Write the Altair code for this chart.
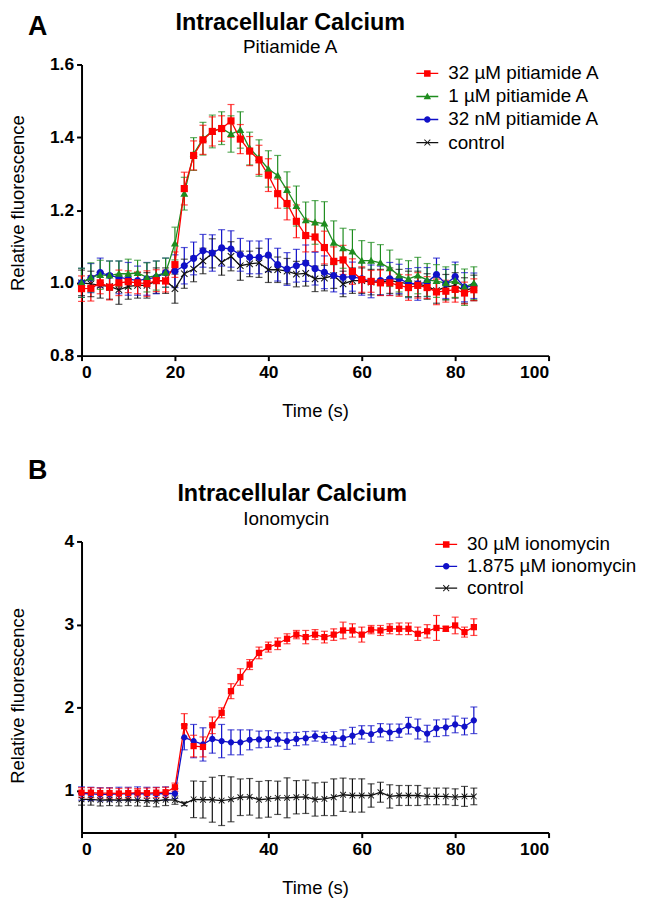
import altair as alt
import pandas as pd

# ---------------- data ----------------
TIME = list(range(0, 85, 2))

# Panel A : Pitiamide A
A_SERIES = ["32 µM pitiamide A", "1 µM pitiamide A", "32 nM pitiamide A", "control"]
A_COLORS = ["#ff0000", "#1e8c1e", "#1010c8", "#111111"]

A_RED = [0.984, 0.985, 1.0, 0.988, 1.0, 1.003, 1.0, 0.998, 1.006, 1.005,
         1.05, 1.259, 1.35, 1.393, 1.416, 1.424, 1.445, 1.395, 1.362, 1.338,
         1.296, 1.245, 1.218, 1.169, 1.13, 1.126, 1.097, 1.059, 1.063, 1.031,
         1.009, 1.004, 1.0, 1.0, 0.993, 0.987, 0.993, 0.987, 0.975, 0.977,
         0.982, 0.972, 0.981]
A_RED_ERR = [0.035, 0.035, 0.03, 0.035, 0.035, 0.03, 0.03, 0.035, 0.03, 0.03,
             0.035, 0.045, 0.04, 0.04, 0.04, 0.035, 0.045, 0.04, 0.04, 0.04,
             0.045, 0.04, 0.045, 0.045, 0.045, 0.04, 0.045, 0.04, 0.04, 0.035,
             0.035, 0.03, 0.035, 0.035, 0.03, 0.035, 0.035, 0.03, 0.035, 0.03,
             0.035, 0.03, 0.03]
A_GREEN = [1.0, 1.015, 1.022, 1.02, 1.025, 1.025, 1.027, 1.015, 1.02, 1.028,
           1.108, 1.245, 1.354, 1.396, 1.416, 1.425, 1.409, 1.42, 1.369, 1.343,
           1.313, 1.295, 1.255, 1.211, 1.172, 1.166, 1.163, 1.11, 1.095, 1.086,
           1.061, 1.061, 1.055, 1.04, 1.02, 1.011, 1.02, 1.008, 1.005, 0.999,
           1.005, 0.988, 0.999]
A_GREEN_ERR = [0.04, 0.04, 0.04, 0.04, 0.035, 0.04, 0.035, 0.04, 0.04, 0.04,
               0.045, 0.045, 0.045, 0.045, 0.045, 0.045, 0.05, 0.05, 0.045, 0.05,
               0.05, 0.055, 0.05, 0.055, 0.05, 0.06, 0.06, 0.06, 0.055, 0.06,
               0.055, 0.05, 0.05, 0.05, 0.045, 0.05, 0.05, 0.045, 0.045, 0.045,
               0.045, 0.05, 0.045]
A_BLUE = [1.0, 1.013, 1.028, 1.02, 1.015, 1.011, 1.006, 1.011, 1.015, 1.028,
          1.032, 1.047, 1.067, 1.088, 1.082, 1.096, 1.093, 1.077, 1.07, 1.07,
          1.076, 1.05, 1.038, 1.047, 1.054, 1.039, 1.029, 1.02, 1.015, 1.017,
          1.011, 1.004, 1.006, 1.011, 1.011, 0.999, 0.997, 1.002, 1.023, 0.997,
          1.017, 0.988, 0.992]
A_BLUE_ERR = [0.04, 0.04, 0.04, 0.04, 0.045, 0.045, 0.04, 0.045, 0.045, 0.04,
              0.045, 0.05, 0.045, 0.045, 0.05, 0.05, 0.05, 0.045, 0.045, 0.045,
              0.045, 0.045, 0.045, 0.045, 0.05, 0.045, 0.045, 0.045, 0.045, 0.04,
              0.045, 0.045, 0.04, 0.045, 0.04, 0.04, 0.045, 0.04, 0.045, 0.04,
              0.04, 0.04, 0.035]
A_BLACK = [1.0, 0.997, 0.993, 0.99, 0.981, 0.99, 0.993, 0.993, 1.006, 1.006,
           0.984, 1.025, 1.038, 1.06, 1.081, 1.056, 1.073, 1.047, 1.052, 1.055,
           1.036, 1.036, 1.032, 1.024, 1.026, 1.011, 1.013, 1.02, 0.997, 1.006,
           1.006, 1.002, 1.002, 1.006, 1.002, 0.997, 0.997, 0.99, 0.979, 0.988,
           0.993, 0.979, 0.986]
A_BLACK_ERR = [0.035, 0.035, 0.035, 0.035, 0.04, 0.035, 0.035, 0.035, 0.035, 0.035,
               0.04, 0.04, 0.035, 0.035, 0.04, 0.035, 0.04, 0.04, 0.035, 0.04,
               0.035, 0.035, 0.035, 0.035, 0.035, 0.035, 0.035, 0.035, 0.035, 0.035,
               0.035, 0.035, 0.035, 0.035, 0.035, 0.035, 0.035, 0.035, 0.035, 0.035,
               0.035, 0.035, 0.035]

# Panel B : Ionomycin
B_SERIES = ["30 µM ionomycin", "1.875 µM ionomycin", "control"]
B_COLORS = ["#ff0000", "#1010c8", "#111111"]

B_RED = [0.98, 0.98, 0.975, 0.975, 0.97, 0.975, 0.98, 0.975, 0.98, 0.985,
         1.045, 1.78, 1.54, 1.53, 1.79, 1.94, 2.2, 2.37, 2.52, 2.66,
         2.73, 2.77, 2.83, 2.88, 2.85, 2.88, 2.85, 2.88, 2.93, 2.93,
         2.88, 2.94, 2.93, 2.95, 2.95, 2.95, 2.89, 2.92, 2.96, 2.95,
         2.99, 2.91, 2.97]
B_RED_ERR = [0.06, 0.06, 0.06, 0.06, 0.06, 0.06, 0.05, 0.06, 0.06, 0.06,
             0.05, 0.15, 0.13, 0.12, 0.1, 0.06, 0.09, 0.1, 0.06, 0.07,
             0.06, 0.07, 0.06, 0.05, 0.08, 0.06, 0.07, 0.07, 0.1, 0.08,
             0.09, 0.05, 0.06, 0.06, 0.07, 0.07, 0.08, 0.08, 0.15, 0.03,
             0.1, 0.06, 0.1]
B_BLUE = [0.97, 0.965, 0.96, 0.96, 0.965, 0.965, 0.97, 0.965, 0.965, 0.97,
          0.97, 1.645, 1.6, 1.56, 1.625, 1.6, 1.585, 1.585, 1.615, 1.62,
          1.625, 1.62, 1.6, 1.625, 1.635, 1.66, 1.645, 1.635, 1.635, 1.665,
          1.705, 1.685, 1.73, 1.705, 1.725, 1.785, 1.745, 1.69, 1.755, 1.765,
          1.8, 1.775, 1.85]
B_BLUE_ERR = [0.08, 0.08, 0.08, 0.08, 0.08, 0.08, 0.08, 0.08, 0.08, 0.08,
              0.06, 0.15, 0.2, 0.2, 0.17, 0.2, 0.15, 0.15, 0.12, 0.1,
              0.1, 0.08, 0.1, 0.08, 0.08, 0.06, 0.06, 0.08, 0.1, 0.1,
              0.08, 0.1, 0.08, 0.1, 0.08, 0.1, 0.12, 0.1, 0.1, 0.1,
              0.1, 0.1, 0.16]
B_BLACK = [0.9, 0.9, 0.89, 0.895, 0.89, 0.895, 0.89, 0.885, 0.88, 0.895,
           0.89, 0.845, 0.9, 0.895, 0.895, 0.885, 0.9, 0.925, 0.93, 0.895,
           0.905, 0.918, 0.918, 0.925, 0.93, 0.898, 0.905, 0.925, 0.955, 0.946,
           0.946, 0.946, 0.985, 0.935, 0.946, 0.946, 0.946, 0.935, 0.935, 0.935,
           0.926, 0.935, 0.935]
B_BLACK_ERR = [0.07, 0.07, 0.07, 0.07, 0.07, 0.07, 0.07, 0.07, 0.07, 0.07,
               0.05, 0.02, 0.22, 0.22, 0.27, 0.3, 0.27, 0.22, 0.22, 0.22,
               0.22, 0.2, 0.24, 0.2, 0.2, 0.2, 0.2, 0.22, 0.2, 0.2,
               0.2, 0.14, 0.12, 0.14, 0.12, 0.12, 0.12, 0.1, 0.1, 0.1,
               0.1, 0.12, 0.1]

# ---------------- styling ----------------
FONT = "Liberation Sans"
LINE = "M-1,-0.06H1V0.06H-1Z"
SQUARE = "M-0.3,-0.3H0.3V0.3H-0.3Z"
TRI = "M0,-0.34L0.34,0.26H-0.34Z"
CIRC = "M-0.3,0A0.3,0.3 0 1,1 0.3,0A0.3,0.3 0 1,1 -0.3,0Z"
XMARK = ("M-0.3,-0.24L-0.24,-0.3L0,-0.06L0.24,-0.3L0.3,-0.24L0.06,0"
         "L0.3,0.24L0.24,0.3L0,0.06L-0.24,0.3L-0.3,0.24L-0.06,0Z")

PT_SQUARE = "M-1,-1H1V1H-1Z"
PT_TRI = "M0,-1.1L1.1,0.85H-1.1Z"
PT_CIRC = "M-1,0A1,1 0 1,1 1,0A1,1 0 1,1 -1,0Z"
PT_X = ("M-1,-0.8L-0.8,-1L0,-0.2L0.8,-1L1,-0.8L0.2,0"
        "L1,0.8L0.8,1L0,0.2L-0.8,1L-1,0.8L-0.2,0Z")


def make_df(series, values, errors):
    rows = []
    # draw order: last series in list drawn first
    for name, vals, errs in reversed(list(zip(series, values, errors))):
        for t, v, e in zip(TIME, vals, errs):
            rows.append({"t": t, "v": v, "lo": v - e, "hi": v + e, "series": name})
    return pd.DataFrame(rows)


def panel(df, series, colors, pt_shapes, lg_shapes, ydom, yvals, yfmt,
          letter, title, subtitle, letter_y, title_y, sub_y, title_x, sub_x,
          legend_x, legend_y, row_pad, pt_size, ytitle_y):
    color = alt.Color("series:N", scale=alt.Scale(domain=series, range=colors), legend=None)
    xenc = alt.X("t:Q", scale=alt.Scale(domain=[0, 100], nice=False),
                 axis=alt.Axis(values=[0, 20, 40, 60, 80, 100], title="Time (s)",
                               titlePadding=21))
    yenc = alt.Y("v:Q", scale=alt.Scale(domain=ydom, nice=False, zero=False),
                 axis=alt.Axis(values=yvals, format=yfmt, title="Relative fluorescence",
                               titleX=-54, titleY=ytitle_y))
    base = alt.Chart(df)
    rules = base.mark_rule(strokeWidth=1.2).encode(
        x="t:Q", y="lo:Q", y2="hi:Q", color=color)
    cap_lo = base.mark_tick(orient="horizontal", size=7, thickness=1.2).encode(
        x="t:Q", y="lo:Q", color=color)
    cap_hi = base.mark_tick(orient="horizontal", size=7, thickness=1.2).encode(
        x="t:Q", y="hi:Q", color=color)
    lines = base.mark_line(strokeWidth=1.3).encode(x=xenc, y=yenc, color=color, detail="series:N")
    points = base.mark_point(filled=True, opacity=1, size=pt_size).encode(
        x="t:Q", y="v:Q", color=color,
        shape=alt.Shape("series:N", scale=alt.Scale(domain=series, range=pt_shapes), legend=None))
    legend_layer = base.transform_filter("datum.t < 0").mark_point(
        filled=True, opacity=1, size=484).encode(
        x="t:Q", y="v:Q",
        color=alt.Color("series:N", scale=alt.Scale(domain=series, range=colors),
                        legend=alt.Legend(title=None, orient="none", legendX=legend_x,
                                          legendY=legend_y, rowPadding=row_pad,
                                          labelLimit=400)),
        shape=alt.Shape("series:N", scale=alt.Scale(domain=series, range=lg_shapes)))
    labels = pd.DataFrame({"label": [letter, title, subtitle]})
    lab = alt.Chart(labels)
    t_letter = lab.transform_filter(alt.datum.label == letter).mark_text(
        font=FONT, fontSize=27, fontWeight="bold", color="black", align="center",
        baseline="alphabetic").encode(text="label:N", x=alt.value(-44), y=alt.value(letter_y))
    t_title = lab.transform_filter(alt.datum.label == title).mark_text(
        font=FONT, fontSize=23.5, fontWeight="bold", color="black", align="center",
        baseline="alphabetic").encode(text="label:N", x=alt.value(title_x), y=alt.value(title_y))
    t_sub = lab.transform_filter(alt.datum.label == subtitle).mark_text(
        font=FONT, fontSize=19, color="black", align="center",
        baseline="alphabetic").encode(text="label:N", x=alt.value(sub_x), y=alt.value(sub_y))
    return alt.layer(rules, cap_lo, cap_hi, lines, points, legend_layer,
                     t_letter, t_title, t_sub).resolve_scale(
        color="independent", shape="independent").properties(width=470, height=293)


dfA = make_df(A_SERIES, [A_RED, A_GREEN, A_BLUE, A_BLACK],
              [A_RED_ERR, A_GREEN_ERR, A_BLUE_ERR, A_BLACK_ERR])
dfB = make_df(B_SERIES, [B_RED, B_BLUE, B_BLACK], [B_RED_ERR, B_BLUE_ERR, B_BLACK_ERR])

chartA = panel(dfA, A_SERIES, A_COLORS,
               [PT_SQUARE, PT_TRI, PT_CIRC, PT_X],
               [LINE + SQUARE, LINE + TRI, LINE + CIRC, LINE + XMARK],
               [0.8, 1.6], [0.8, 1.0, 1.2, 1.4, 1.6], ".1f",
               "A", "Intracellular Calcium", "Pitiamide A",
               -30, -35, -12, 210, 210, 337, -2, 2.2, 52, 139)
chartB = panel(dfB, B_SERIES, B_COLORS,
               [PT_SQUARE, PT_CIRC, PT_X],
               [LINE + SQUARE, LINE + CIRC, LINE + XMARK],
               [0.5, 4], [1, 2, 3, 4], "d",
               "B", "Intracellular Calcium", "Ionomycin",
               -63, -41, -17, 212, 206, 356, -8, 1, 40, 155)

chart = alt.vconcat(chartA, chartB, spacing=37).resolve_scale(
    color="independent", shape="independent").properties(
    padding={"top": 0, "left": 0, "right": 0, "bottom": 0}).configure_view(
    stroke=None).configure_axis(
    grid=False, domainColor="black", domainWidth=2, tickColor="black", tickWidth=2,
    tickSize=5, labelFont=FONT, labelFontSize=17.5, labelFontWeight="bold",
    labelColor="black", labelPadding=3, titleFont=FONT, titleFontSize=18.5,
    titleFontWeight="normal", titleColor="black").configure_legend(
    labelFont=FONT, labelFontSize=19, labelColor="black", symbolSize=484,
    symbolStrokeWidth=0, labelOffset=10, padding=0)

chart.save("out.html", embed_options={"renderer": "svg", "actions": False})
